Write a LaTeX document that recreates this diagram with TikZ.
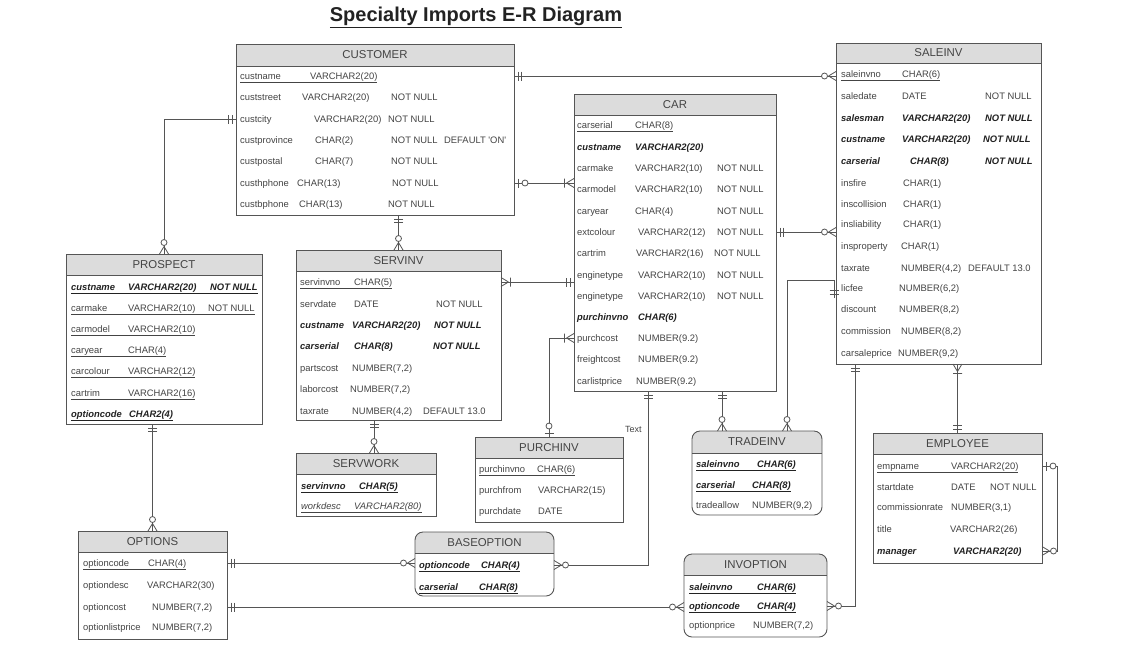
\documentclass[tikz,border=0pt]{standalone}
\usepackage{fontspec}
\setmainfont{Liberation Sans}
\usetikzlibrary{calc}

\definecolor{linec}{HTML}{555555}
\definecolor{txtc}{HTML}{444444}
\definecolor{keyc}{HTML}{222222}
\definecolor{hdrc}{HTML}{DCDCDC}

% crow's foot ends
\pgfdeclarearrow{
  name = onlyone,
  setup code = {
    \pgfarrowssettipend{0pt}\pgfarrowssetlineend{0pt}
    \pgfarrowssetbackend{-8pt}\pgfarrowssetvisualbackend{-8pt}
    \pgfarrowsupperhullpoint{-8pt}{4.5pt}\pgfarrowsupperhullpoint{0pt}{4.5pt}
  },
  drawing code = {
    \pgfsetdash{}{0pt}
    \pgfpathmoveto{\pgfqpoint{-4pt}{-4.5pt}}\pgfpathlineto{\pgfqpoint{-4pt}{4.5pt}}
    \pgfpathmoveto{\pgfqpoint{-7.5pt}{-4.5pt}}\pgfpathlineto{\pgfqpoint{-7.5pt}{4.5pt}}
    \pgfusepathqstroke
  }
}
\pgfdeclarearrow{
  name = zeroone,
  setup code = {
    \pgfarrowssettipend{0pt}\pgfarrowssetlineend{0pt}
    \pgfarrowssetbackend{-14pt}\pgfarrowssetvisualbackend{-14pt}
    \pgfarrowsupperhullpoint{-14pt}{4.5pt}\pgfarrowsupperhullpoint{0pt}{4.5pt}
  },
  drawing code = {
    \pgfsetdash{}{0pt}
    \pgfpathmoveto{\pgfqpoint{-4pt}{-4.5pt}}\pgfpathlineto{\pgfqpoint{-4pt}{4.5pt}}
    \pgfusepathqstroke
    \pgfsetfillcolor{white}
    \pgfpathcircle{\pgfqpoint{-11pt}{0pt}}{3pt}
    \pgfusepathqfillstroke
  }
}
\pgfdeclarearrow{
  name = onemany,
  setup code = {
    \pgfarrowssettipend{0pt}\pgfarrowssetlineend{0pt}
    \pgfarrowssetbackend{-10pt}\pgfarrowssetvisualbackend{-10pt}
    \pgfarrowsupperhullpoint{-10pt}{4.5pt}\pgfarrowsupperhullpoint{0pt}{4.5pt}
  },
  drawing code = {
    \pgfsetdash{}{0pt}
    \pgfpathmoveto{\pgfqpoint{-7.5pt}{0pt}}\pgfpathlineto{\pgfqpoint{0pt}{4.5pt}}
    \pgfpathmoveto{\pgfqpoint{-7.5pt}{0pt}}\pgfpathlineto{\pgfqpoint{0pt}{-4.5pt}}
    \pgfpathmoveto{\pgfqpoint{-9.5pt}{-4.5pt}}\pgfpathlineto{\pgfqpoint{-9.5pt}{4.5pt}}
    \pgfusepathqstroke
  }
}
\pgfdeclarearrow{
  name = zeromany,
  setup code = {
    \pgfarrowssettipend{0pt}\pgfarrowssetlineend{0pt}
    \pgfarrowssetbackend{-15pt}\pgfarrowssetvisualbackend{-15pt}
    \pgfarrowsupperhullpoint{-15pt}{4.5pt}\pgfarrowsupperhullpoint{0pt}{4.5pt}
  },
  drawing code = {
    \pgfsetdash{}{0pt}
    \pgfpathmoveto{\pgfqpoint{-7.5pt}{0pt}}\pgfpathlineto{\pgfqpoint{0pt}{4.5pt}}
    \pgfpathmoveto{\pgfqpoint{-7.5pt}{0pt}}\pgfpathlineto{\pgfqpoint{0pt}{-4.5pt}}
    \pgfusepathqstroke
    \pgfsetfillcolor{white}
    \pgfpathcircle{\pgfqpoint{-11.5pt}{0pt}}{3pt}
    \pgfusepathqfillstroke
  }
}

% one cell of fixed width
\newcommand\fcol[2]{\makebox[#1pt][l]{#2}}
% header band, border and title of a table node
\newcommand\tablehead[4]{%
  \fill[hdrc, rounded corners=#3pt] (#1.north west) rectangle ([yshift=-#2pt]#1.north east);
  \fill[hdrc] ([yshift=-#2/2]#1.north west) rectangle ([yshift=-#2pt]#1.north east);
  \draw[edge, rounded corners=#3pt] (#1.south west) rectangle (#1.north east);
  \draw[edge] ([yshift=-#2pt]#1.north west) -- ([yshift=-#2pt]#1.north east);
  \node[hdr] (#1-h) at ([yshift=-#2/2]#1.north) {#4};}

\begin{document}
\begin{tikzpicture}[
    x=1pt, y=-1pt,
    edge/.style={draw=linec, line width=0.9pt},
    tbl/.style={fill=white, inner sep=0pt, outer sep=0pt},
    hdr/.style={font=\fontsize{11.4}{13}\selectfont, text=txtc, inner sep=0pt},
    fld/.style={anchor=west, inner sep=0pt, text height=8pt, text depth=2pt, font=\fontsize{9.4}{11}\selectfont, text=txtc},
    fkey/.style={fld, font=\fontsize{9.4}{11}\selectfont\bfseries\itshape, text=keyc},
    link/.style={draw=linec, line width=0.8pt}
]
    \useasboundingbox (0,0) rectangle (1128,649);

    \node[font=\fontsize{20}{24}\selectfont\bfseries, text=keyc] (title) at (476,17) {\underline{Specialty Imports E-R Diagram}};

    % CUSTOMER
    \node[tbl, minimum width=278pt, minimum height=171pt] (cust) at (375,129.5) {};
    \tablehead{cust}{22}{0}{CUSTOMER}
    \node[fld] (cust-1) at (240,76) {\underline{\fcol{70}{custname}VARCHAR2(20)}};
    \node[fld] (cust-2) at (240,97) {\fcol{62}{custstreet}\fcol{89}{VARCHAR2(20)}NOT NULL};
    \node[fld] (cust-3) at (240,119) {\fcol{74}{custcity}\fcol{74}{VARCHAR2(20)}NOT NULL};
    \node[fld] (cust-4) at (240,140) {\fcol{75}{custprovince}\fcol{76}{CHAR(2)}\fcol{53}{NOT NULL}DEFAULT \textquotesingle ON\textquotesingle};
    \node[fld] (cust-5) at (240,161) {\fcol{75}{custpostal}\fcol{76}{CHAR(7)}NOT NULL};
    \node[fld] (cust-6) at (240,183) {\fcol{57}{custhphone}\fcol{95}{CHAR(13)}NOT NULL};
    \node[fld] (cust-7) at (240,204) {\fcol{59}{custbphone}\fcol{89}{CHAR(13)}NOT NULL};

    % SALEINV
    \node[tbl, minimum width=205pt, minimum height=321pt] (sale) at (938.5,203.5) {};
    \tablehead{sale}{20}{0}{SALEINV}
    \node[fld] (sale-1) at (841,74) {\underline{\fcol{61}{saleinvno}CHAR(6)}};
    \node[fld] (sale-2) at (841,96) {\fcol{61}{saledate}\fcol{83}{DATE}NOT NULL};
    \node[fkey] (sale-3) at (841,118) {\fcol{61}{salesman}\fcol{83}{VARCHAR2(20)}NOT NULL};
    \node[fkey] (sale-4) at (841,139) {\fcol{61}{custname}\fcol{81}{VARCHAR2(20)}NOT NULL};
    \node[fkey] (sale-5) at (841,161) {\fcol{69}{carserial}\fcol{75}{CHAR(8)}NOT NULL};
    \node[fld] (sale-6) at (841,183) {\fcol{62}{insfire}CHAR(1)};
    \node[fld] (sale-7) at (841,204) {\fcol{62}{inscollision}CHAR(1)};
    \node[fld] (sale-8) at (841,224) {\fcol{62}{insliability}CHAR(1)};
    \node[fld] (sale-9) at (841,246) {\fcol{60}{insproperty}CHAR(1)};
    \node[fld] (sale-10) at (841,268) {\fcol{60}{taxrate}\fcol{67}{NUMBER(4,2)}DEFAULT 13.0};
    \node[fld] (sale-11) at (841,288) {\fcol{58}{licfee}NUMBER(6,2)};
    \node[fld] (sale-12) at (841,309) {\fcol{58}{discount}NUMBER(8,2)};
    \node[fld] (sale-13) at (841,331) {\fcol{60}{commission}NUMBER(8,2)};
    \node[fld] (sale-14) at (841,353) {\fcol{57}{carsaleprice}NUMBER(9,2)};

    % CAR
    \node[tbl, minimum width=202pt, minimum height=297pt] (car) at (675,242.5) {};
    \tablehead{car}{21}{0}{CAR}
    \node[fld] (car-1) at (577,125) {\underline{\fcol{58}{carserial}CHAR(8)}};
    \node[fkey] (car-2) at (577,147) {\fcol{58}{custname}VARCHAR2(20)};
    \node[fld] (car-3) at (577,168) {\fcol{58}{carmake}\fcol{82}{VARCHAR2(10)}NOT NULL};
    \node[fld] (car-4) at (577,189) {\fcol{58}{carmodel}\fcol{82}{VARCHAR2(10)}NOT NULL};
    \node[fld] (car-5) at (577,211) {\fcol{58}{caryear}\fcol{82}{CHAR(4)}NOT NULL};
    \node[fld] (car-6) at (577,232) {\fcol{61}{extcolour}\fcol{79}{VARCHAR2(12)}NOT NULL};
    \node[fld] (car-7) at (577,253) {\fcol{59}{cartrim}\fcol{78}{VARCHAR2(16)}NOT NULL};
    \node[fld] (car-8) at (577,275) {\fcol{61}{enginetype}\fcol{79}{VARCHAR2(10)}NOT NULL};
    \node[fld] (car-9) at (577,296) {\fcol{61}{enginetype}\fcol{79}{VARCHAR2(10)}NOT NULL};
    \node[fkey] (car-10) at (577,317) {\fcol{61}{purchinvno}CHAR(6)};
    \node[fld] (car-11) at (577,338) {\fcol{61}{purchcost}NUMBER(9.2)};
    \node[fld] (car-12) at (577,359) {\fcol{61}{freightcost}NUMBER(9.2)};
    \node[fld] (car-13) at (577,381) {\fcol{59}{carlistprice}NUMBER(9.2)};

    % PROSPECT
    \node[tbl, minimum width=196pt, minimum height=170pt] (pros) at (164,339) {};
    \tablehead{pros}{21}{0}{PROSPECT}
    \node[fkey] (pros-1) at (71,287) {\underline{\fcol{57}{custname}\fcol{82}{VARCHAR2(20)}NOT NULL}};
    \node[fld] (pros-2) at (71,308) {\underline{\fcol{57}{carmake}\fcol{80}{VARCHAR2(10)}NOT NULL}};
    \node[fld] (pros-3) at (71,329) {\underline{\fcol{57}{carmodel}VARCHAR2(10)}};
    \node[fld] (pros-4) at (71,350) {\underline{\fcol{57}{caryear}CHAR(4)}};
    \node[fld] (pros-5) at (71,371) {\underline{\fcol{57}{carcolour}VARCHAR2(12)}};
    \node[fld] (pros-6) at (71,393) {\underline{\fcol{57}{cartrim}VARCHAR2(16)}};
    \node[fkey] (pros-7) at (71,414) {\underline{\fcol{58}{optioncode}CHAR2(4)}};

    % SERVINV
    \node[tbl, minimum width=205pt, minimum height=170pt] (serv) at (398.5,335) {};
    \tablehead{serv}{21}{0}{SERVINV}
    \node[fld] (serv-1) at (300,282) {\underline{\fcol{54}{servinvno}CHAR(5)}};
    \node[fld] (serv-2) at (300,304) {\fcol{54}{servdate}\fcol{82}{DATE}NOT NULL};
    \node[fkey] (serv-3) at (300,325) {\fcol{52}{custname}\fcol{82}{VARCHAR2(20)}NOT NULL};
    \node[fkey] (serv-4) at (300,346) {\fcol{54}{carserial}\fcol{79}{CHAR(8)}NOT NULL};
    \node[fld] (serv-5) at (300,368) {\fcol{52}{partscost}NUMBER(7,2)};
    \node[fld] (serv-6) at (300,389) {\fcol{50}{laborcost}NUMBER(7,2)};
    \node[fld] (serv-7) at (300,411) {\fcol{52}{taxrate}\fcol{71}{NUMBER(4,2)}DEFAULT 13.0};

    % SERVWORK
    \node[tbl, minimum width=140pt, minimum height=63pt] (swork) at (366,484.5) {};
    \tablehead{swork}{21}{0}{SERVWORK}
    \node[fkey] (swork-1) at (301,486) {\underline{\fcol{58}{servinvno}CHAR(5)}};
    \node[fld, font=\fontsize{9.4}{11}\selectfont\itshape] (swork-2) at (301,506) {\underline{\fcol{53}{workdesc}VARCHAR2(80)}};

    % PURCHINV
    \node[tbl, minimum width=148pt, minimum height=85pt] (pinv) at (549,479.5) {};
    \tablehead{pinv}{21}{0}{PURCHINV}
    \node[fld] (pinv-1) at (479,469) {\underline{\fcol{58}{purchinvno}CHAR(6)}};
    \node[fld] (pinv-2) at (479,490) {\fcol{59}{purchfrom}VARCHAR2(15)};
    \node[fld] (pinv-3) at (479,511) {\fcol{59}{purchdate}DATE};
    \node[fld, font=\fontsize{9}{11}\selectfont] (stray) at (625,429) {Text};

    % TRADEINV
    \node[tbl, rounded corners=8pt, minimum width=130pt, minimum height=84pt] (trade) at (757,473) {};
    \tablehead{trade}{22}{8}{TRADEINV}
    \node[fkey] (trade-1) at (696,464) {\underline{\fcol{61}{saleinvno}CHAR(6)}};
    \node[fkey] (trade-2) at (696,485) {\underline{\fcol{56}{carserial}CHAR(8)}};
    \node[fld] (trade-3) at (696,505) {\fcol{56}{tradeallow}NUMBER(9,2)};

    % EMPLOYEE
    \node[tbl, minimum width=169pt, minimum height=130pt] (emp) at (957.5,498) {};
    \tablehead{emp}{21}{0}{EMPLOYEE}
    \node[fld] (emp-1) at (877,466) {\underline{\fcol{74}{empname}VARCHAR2(20)}};
    \node[fld] (emp-2) at (877,487) {\fcol{74}{startdate}\fcol{39}{DATE}NOT NULL};
    \node[fld] (emp-3) at (877,507) {\fcol{74}{commissionrate}NUMBER(3,1)};
    \node[fld] (emp-4) at (877,529) {\fcol{73}{title}VARCHAR2(26)};
    \node[fkey] (emp-5) at (877,551) {\fcol{76}{manager}VARCHAR2(20)};

    % OPTIONS
    \node[tbl, minimum width=149pt, minimum height=108pt] (opt) at (152.5,585) {};
    \tablehead{opt}{21}{0}{OPTIONS}
    \node[fld] (opt-1) at (83,563) {\underline{\fcol{65}{optioncode}CHAR(4)}};
    \node[fld] (opt-2) at (83,585) {\fcol{64}{optiondesc}VARCHAR2(30)};
    \node[fld] (opt-3) at (83,607) {\fcol{69}{optioncost}NUMBER(7,2)};
    \node[fld] (opt-4) at (83,627) {\fcol{69}{optionlistprice}NUMBER(7,2)};

    % BASEOPTION
    \node[tbl, rounded corners=8pt, minimum width=139pt, minimum height=64pt] (bopt) at (484.5,564) {};
    \tablehead{bopt}{21}{8}{BASEOPTION}
    \node[fkey] (bopt-1) at (419,565) {\underline{\fcol{62}{optioncode}CHAR(4)}};
    \node[fkey] (bopt-2) at (419,587) {\underline{\fcol{60}{carserial}CHAR(8)}};

    % INVOPTION
    \node[tbl, rounded corners=8pt, minimum width=143pt, minimum height=83pt] (iopt) at (755.5,595.5) {};
    \tablehead{iopt}{21}{8}{INVOPTION}
    \node[fkey] (iopt-1) at (689,587) {\underline{\fcol{68}{saleinvno}CHAR(6)}};
    \node[fkey] (iopt-2) at (689,606) {\underline{\fcol{68}{optioncode}CHAR(4)}};
    \node[fld] (iopt-3) at (689,625) {\fcol{64}{optionprice}NUMBER(7,2)};

    % relationships
    \coordinate (swtop) at ([xshift=8pt]swork.north);
    \coordinate (licx) at (834,298);
    \draw[link, onlyone-zeromany] (cust.east |- cust-1) -- (sale.west |- cust-1);
    \draw[link, onlyone-zeromany] (cust.west |- cust-3) -| (pros.north);
    \draw[link, onlyone-zeromany] (cust.south -| serv.north) -- (serv.north);
    \draw[link, zeroone-onemany] (cust.east |- cust-6) -- (car.west |- cust-6);
    \draw[link, onlyone-zeromany] (car.east |- car-6) -- (sale.west |- car-6);
    \draw[link, onemany-onlyone] (serv.east |- serv-1) -- (car.west |- serv-1);
    \draw[link, onemany-zeroone] (car.west |- car-11) -| (pinv.north);
    \draw[link, onlyone-zeromany] ([xshift=-27pt]car.south) |- (bopt.east |- bopt-1);
    \draw[link, onlyone-zeromany] ([xshift=47pt]car.south) -- ([xshift=-35pt]trade.north);
    \draw[link, onlyone-zeromany] (licx) -- ++(0,-18) -| ([xshift=30pt]trade.north);
    \draw[link, onemany-onlyone] (sale.south -| emp.north) -- (emp.north);
    \draw[link, onlyone-zeromany] ([xshift=-83.5pt]sale.south) |- (iopt.east |- iopt-2);
    \draw[link, zeroone-zeromany] (emp.east |- emp-1) -- ++(15,0) |- (emp.east |- emp-5);
    \draw[link, onlyone-zeromany] (pros.south -| opt.north) -- (opt.north);
    \draw[link, onlyone-zeromany] (serv.south -| swtop) -- (swtop);
    \draw[link, onlyone-zeromany] (opt.east |- opt-1) -- (bopt.west |- opt-1);
    \draw[link, onlyone-zeromany] (opt.east |- opt-3) -- (iopt.west |- opt-3);
\end{tikzpicture}
\end{document}
